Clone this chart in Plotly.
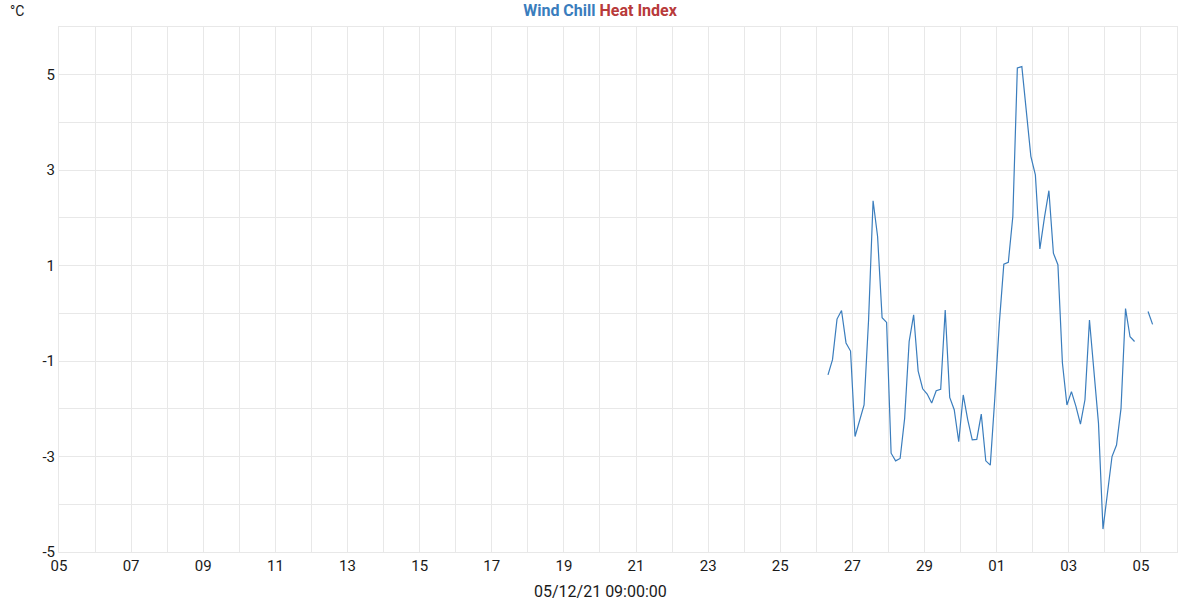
import plotly.graph_objects as go
import pandas as pd

# 3-hourly samples from 2021-11-26 ~08:00 to 2021-12-05 ~08:00
start_time = "2021-11-26 07:45"
n_points = 73
times = pd.date_range(start=start_time, periods=n_points, freq="3h")

wind_chill = [
    -1.29, -0.97, -0.12, 0.06, -0.62, -0.79, -2.58, -2.23, -1.92, -0.14,
    2.36, 1.61, -0.09, -0.19, -2.93, -3.09, -3.04, -2.20, -0.59, -0.03,
    -1.21, -1.58, -1.69, -1.88, -1.62, -1.59, 0.07, -1.76, -2.02, -2.69,
    -1.71, -2.23, -2.65, -2.64, -2.11, -3.09, -3.18,
    -1.78, -0.21, 1.03, 1.07, 2.03, 5.14, 5.17, 4.20, 3.29, 2.90,
    1.35, 2.00, 2.57, 1.26, 1.02, -1.04, -1.92, -1.64, -1.95, -2.32,
    -1.81, -0.14, -1.18, -2.30, -4.52, -3.70, -3.00, -2.76, -1.99, 0.10,
    -0.49, -0.59, None, None, 0.04, -0.23,
]
heat_index = [None] * n_points

y_ticks = [-5, -3, -1, 1, 3, 5]
y_tick_labels = ["-5", "-3", "-1", "1", "3", "5"]
x_range = ["2021-11-05 00:00", "2021-12-06 00:00"]
x_title = "05/12/21 09:00:00"
unit_label = "°C"

WC_COLOR = "#3a7dbd"
HI_COLOR = "#b83a3a"
GRID = "#e8e8e8"
TXT = "#1a1a1a"

fig = go.Figure()
fig.add_trace(go.Scatter(x=times, y=wind_chill, mode="lines", name="Wind Chill",
                         line=dict(color=WC_COLOR, width=1.2), connectgaps=False))
fig.add_trace(go.Scatter(x=times, y=heat_index, mode="lines", name="Heat Index",
                         line=dict(color=HI_COLOR, width=1.2)))

fig.update_layout(
    width=1200, height=600,
    margin=dict(l=59, r=23, t=27, b=48),
    paper_bgcolor="white", plot_bgcolor="white",
    showlegend=False,
    font=dict(family="Roboto", size=15, color=TXT),
    title=dict(
        text=f"<b><span style='color:{WC_COLOR}'>Wind Chill</span> "
             f"<span style='color:{HI_COLOR}'>Heat Index</span></b>",
        x=0.5, xanchor="center", y=0.983, yanchor="middle",
        font=dict(family="Roboto", size=16), automargin=False,
    ),
    xaxis=dict(
        type="date", range=x_range, automargin=False,
        tick0="2021-11-05", dtick=2 * 86400000, tickformat="%d",
        showgrid=True, gridcolor=GRID, gridwidth=1,
        minor=dict(dtick=86400000, showgrid=True, gridcolor=GRID, gridwidth=1),
        showline=True, linecolor=GRID, mirror=True,
        ticks="", zeroline=False,
        tickfont=dict(size=15, color=TXT),
    ),
    yaxis=dict(
        range=[-5, 6], automargin=False,
        tickvals=y_ticks, ticktext=y_tick_labels,
        showgrid=True, gridcolor=GRID, gridwidth=1,
        minor=dict(dtick=1, tick0=0, showgrid=True, gridcolor=GRID, gridwidth=1),
        showline=True, linecolor=GRID, mirror=True,
        ticks="", zeroline=False,
        tickfont=dict(size=15, color=TXT),
    ),
    annotations=[
        dict(text=unit_label, xref="paper", yref="paper",
             x=0, xshift=-42, y=1, yshift=6, xanchor="center", yanchor="bottom",
             showarrow=False, font=dict(size=14, color=TXT)),
        dict(text=x_title, xref="paper", yref="paper",
             x=0.5, xshift=-18, y=0, yshift=-39, xanchor="center", yanchor="middle",
             showarrow=False, font=dict(size=16, color=TXT)),
    ],
)

fig.write_html("out.html",
               config={"displayModeBar": False},
               post_script="document.body.style.margin='0';document.body.style.overflow='hidden';")
